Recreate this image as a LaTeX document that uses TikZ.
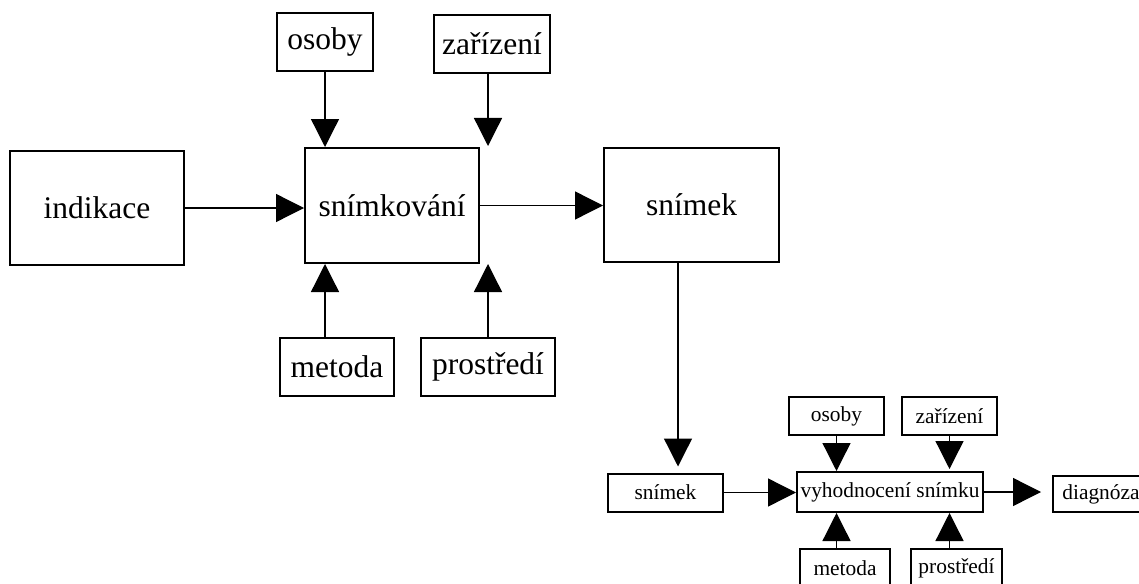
\documentclass[tikz,border=0pt]{standalone}
\usepackage{fontspec}
\setmainfont{Liberation Serif}
\usetikzlibrary{arrows.meta,calc,positioning}

\begin{document}
\begin{tikzpicture}[x=1pt,y=-1pt,
velky/.style={draw,line width=2pt,inner sep=0pt,font=\fontsize{31.5}{36}\selectfont},
maly/.style={draw,line width=2pt,inner sep=0pt,font=\fontsize{21.4}{25}\selectfont},
sipka/.style={line width=1.3pt,-{Triangle[length=28pt,width=28pt]}}]
\useasboundingbox (0,0) rectangle (1139,583);
% snimkovani
\node[velky,minimum width=174pt,minimum height=114pt] (ind) at (97,208) {indikace};
\node[velky,minimum width=174pt,minimum height=115pt] (snk) at (392,205.5) {snímkování};
\node[velky,minimum width=175pt,minimum height=114pt] (sni) at (691.5,205) {snímek};
\node[velky,minimum width=96pt,minimum height=58pt] (os) at (325,42) {osoby};
\node[velky,minimum width=116pt,minimum height=58pt] (zar) at (492,44) {zařízení};
\node[velky,minimum width=114pt,minimum height=58pt] (met) at (337,367) {metoda};
\node[velky,minimum width=134pt,minimum height=58pt] (pro) at (488,367) {prostředí};
% vyhodnoceni
\node[maly,minimum width=115pt,minimum height=38pt] (snm) at (665.5,492.5) {snímek};
\node[maly,minimum width=186pt,minimum height=40pt] (vyh) at (890,492) {vyhodnocení snímku};
\node[maly,minimum width=95pt,minimum height=38pt] (os2) at (836.5,416) {osoby};
\node[maly,minimum width=95pt,minimum height=38pt] (zar2) at (949.5,416) {zařízení};
\node[maly,minimum width=90pt,minimum height=38pt] (met2) at (845,568) {metoda};
\node[maly,minimum width=91pt,minimum height=38pt] (pro2) at (956.5,568) {prostředí};
\node[maly,minimum width=96pt,minimum height=36pt] (diag) at (1101,494) {diagnóza};
\path ([xshift=-13.5pt]sni.south) coordinate (sd);
\draw[sipka] (ind.east) -- (ind.east -| snk.west);
\draw[sipka] (snk.east) -- (snk.east -| sni.west);
\draw[sipka] (os.south) -- (os.south |- snk.north);
\draw[sipka,shorten >=1pt] (zar.south -| pro) -- (snk.north -| pro);
\draw[sipka] (met.north -| os) -- (snk.south -| os);
\draw[sipka] (pro.north) -- (pro |- snk.south);
\draw[sipka,shorten >=6pt] (sd) -- (sd |- snm.north);
\draw[sipka] (snm.east) -- (snm.east -| vyh.west);
\draw[sipka,shorten >=11pt] (vyh.east) -- (vyh.east -| diag.west);
\draw[sipka] (os2.south) -- (os2.south |- vyh.north);
\draw[sipka,shorten >=2pt] (zar2.south) -- (zar2.south |- vyh.north);
\draw[sipka] (met2.north -| os2) -- (vyh.south -| os2);
\draw[sipka] (pro2.north -| zar2) -- (vyh.south -| zar2);
\end{tikzpicture}
\end{document}
